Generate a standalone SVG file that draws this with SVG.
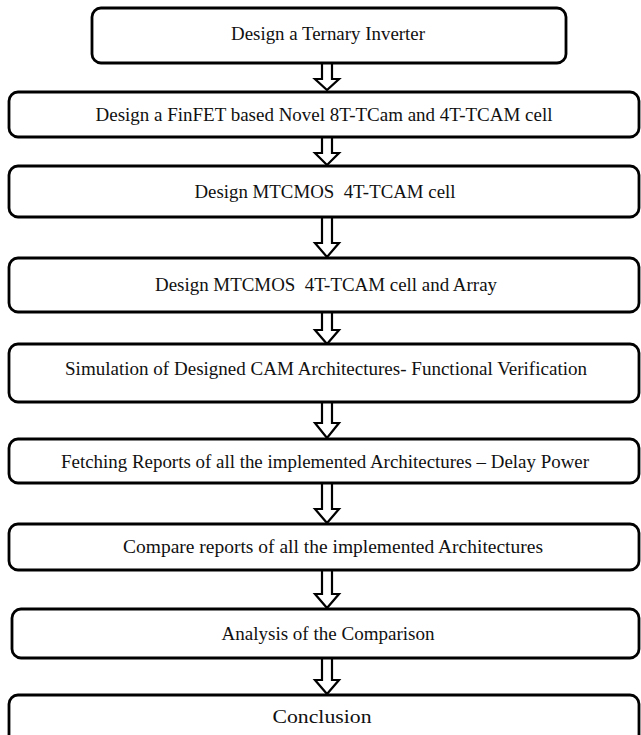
<svg xmlns="http://www.w3.org/2000/svg" width="641" height="735" viewBox="0 0 641 735">
<defs>
<style>
.box{fill:#fff;stroke:#000;stroke-width:2.8}
.lbl{font-family:"Liberation Serif","Times New Roman",serif;font-size:19px;fill:#111;text-anchor:middle}
.arr{fill:#fff;stroke:#000;stroke-width:2.2;stroke-linejoin:miter}
</style>
</defs>
<rect width="641" height="735" fill="#fff"/>
<g id="connectors">
<path class="arr" d="M322,63 V79 H315 L327,90 L339,79 H332 V63 Z"/>
<path class="arr" d="M322,137 V153 H315 L327,165 L339,153 H332 V137 Z"/>
<path class="arr" d="M322,217 V243 H315 L327,257 L339,243 H332 V217 Z"/>
<path class="arr" d="M322,312 V330 H315 L327,344 L339,330 H332 V312 Z"/>
<path class="arr" d="M322,402 V423 H315 L327,438 L339,423 H332 V402 Z"/>
<path class="arr" d="M322,483 V509 H315 L327,523 L339,509 H332 V483 Z"/>
<path class="arr" d="M322,570 V594 H315 L327,608 L339,594 H332 V570 Z"/>
<path class="arr" d="M322,658 V680 H315 L327,694 L339,680 H332 V658 Z"/>
</g>
<g id="n1"><rect class="box" x="92" y="8" width="474" height="55" rx="9"/><text class="lbl" x="328" y="40" textLength="194" lengthAdjust="spacingAndGlyphs">Design a Ternary Inverter</text></g>
<g id="n2"><rect class="box" x="9" y="92" width="630" height="45" rx="9"/><text class="lbl" x="324" y="121" textLength="457" lengthAdjust="spacingAndGlyphs">Design a FinFET based Novel 8T-TCam and 4T-TCAM cell</text></g>
<g id="n3"><rect class="box" x="9" y="166" width="630" height="51" rx="9"/><text class="lbl" x="325" y="198" textLength="261" lengthAdjust="spacingAndGlyphs">Design MTCMOS&#160; 4T-TCAM cell</text></g>
<g id="n4"><rect class="box" x="9" y="258" width="630" height="54" rx="9"/><text class="lbl" x="326" y="291" textLength="342" lengthAdjust="spacingAndGlyphs">Design MTCMOS&#160; 4T-TCAM cell and Array</text></g>
<g id="n5"><rect class="box" x="9" y="344" width="630" height="58" rx="9"/><text class="lbl" x="326" y="375" textLength="522" lengthAdjust="spacingAndGlyphs">Simulation of Designed CAM Architectures- Functional Verification</text></g>
<g id="n6"><rect class="box" x="9" y="439" width="630" height="44" rx="9"/><text class="lbl" x="325" y="468" textLength="528" lengthAdjust="spacingAndGlyphs">Fetching Reports of all the implemented Architectures – Delay Power</text></g>
<g id="n7"><rect class="box" x="9" y="524" width="630" height="46" rx="9"/><text class="lbl" x="333" y="553" textLength="420" lengthAdjust="spacingAndGlyphs">Compare reports of all the implemented Architectures</text></g>
<g id="n8"><rect class="box" x="12" y="609" width="627" height="49" rx="9"/><text class="lbl" x="328" y="640" textLength="213" lengthAdjust="spacingAndGlyphs">Analysis of the Comparison</text></g>
<g id="n9"><rect class="box" x="9" y="695" width="630" height="55" rx="9"/><text class="lbl" x="322" y="723" textLength="99" lengthAdjust="spacingAndGlyphs">Conclusion</text></g>
</svg>
